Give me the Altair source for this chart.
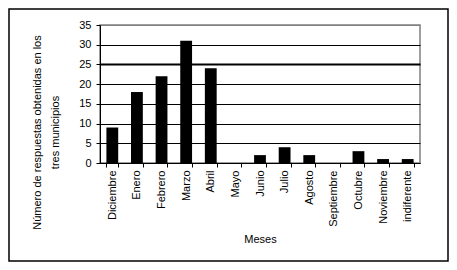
import altair as alt
import pandas as pd

meses = ["Diciembre", "Enero", "Febrero", "Marzo", "Abril", "Mayo", "Junio",
         "Julio", "Agosto", "Septiembre", "Octubre", "Noviembre", "indiferente"]
respuestas = [9, 18, 22, 31, 24, 0, 2, 4, 2, 0, 3, 1, 1]
y_ticks = [0, 5, 10, 15, 20, 25, 30, 35]

df = pd.DataFrame({"mes": meses, "n": respuestas})

FONT = "Liberation Sans"
W, H = 320, 138
PL, PT = 92, 17
PR, PB = 441 - PL - W, 254 - PT - H

bars = alt.Chart(df).mark_bar(color="black").encode(
    x=alt.X("mes:N", sort=meses,
            scale=alt.Scale(paddingInner=0.52, paddingOuter=0.26),
            axis=alt.Axis(title="Meses", labelAngle=270, labelAlign="right",
                          labelBaseline="middle", labelPadding=3,
                          tickBand="extent", tickSize=4, tickColor="black",
                          domainColor="black", titleY=76, titleBaseline="middle",
                          titleFontWeight="normal", grid=False)),
    y=alt.Y("n:Q", scale=alt.Scale(domain=[0, 35], nice=False),
            axis=alt.Axis(values=y_ticks, title=["Número de respuestas obtenidas en los", "tres municipios"],
                          titleAngle=270, titleX=-63, titleY=107, titleAlign="center",
                          titleBaseline="middle", titleLineHeight=18,
                          titleFontWeight="normal",
                          tickSize=4, tickColor="black", domainColor="black",
                          labelPadding=5,
                          grid=True,
                          gridColor={"condition": {"test": "datum.value == 35", "value": "#808080"}, "value": "black"},
                          gridWidth={"condition": {"test": "datum.value == 25", "value": 2.2}, "value": 1})),
)

border = alt.Chart(pd.DataFrame({"a": [0]})).mark_rect(
    fill=None, stroke="black", strokeWidth=1.5
).encode(
    x=alt.value(-PL + 1), x2=alt.value(W + PR - 1),
    y=alt.value(-PT + 1), y2=alt.value(H + PB - 1),
)

chart = alt.layer(bars, border).properties(
    width=W, height=H,
    autosize=alt.AutoSizeParams(type="none"),
    padding={"left": PL, "top": PT, "right": PR, "bottom": PB},
).configure(
    font=FONT,
).configure_view(
    stroke="#808080", strokeWidth=1.5
).configure_axis(
    labelFont=FONT, titleFont=FONT, labelFontSize=11, titleFontSize=11,
    labelColor="black", titleColor="black",
)

chart.save("out.html", embed_options={"renderer": "svg", "actions": False})
